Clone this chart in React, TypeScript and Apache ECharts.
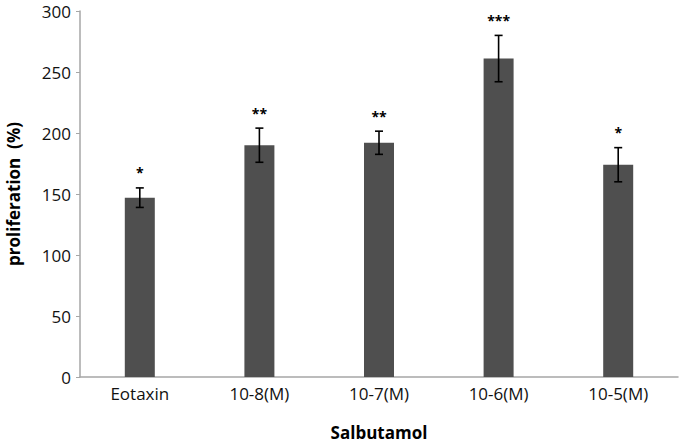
import React, { useEffect, useRef } from "react";
import * as echarts from "echarts";

const categories = ["Eotaxin", "10-8(M)", "10-7(M)", "10-6(M)", "10-5(M)"];
const means = [147, 190, 192, 261, 174];
const errors = [8, 14, 9.5, 19, 14];
const significance = ["*", "**", "**", "***", "*"];
const yTicks = { min: 0, max: 300, interval: 50 };

const FONT = "'Open Sans', 'Liberation Sans', sans-serif";

export default function App() {
  const ref = useRef<HTMLDivElement>(null);
  useEffect(() => {
    if (!ref.current) return;
    const chart = echarts.init(ref.current, undefined, { renderer: "svg" });
    const errData = means.map((m, i) => [i, m - errors[i], m + errors[i], significance[i]]);
    chart.setOption({
      animation: false,
      backgroundColor: "#ffffff",
      grid: { left: 80, right: 2, top: 11, bottom: 66, outerBoundsMode: "none", containLabel: false },
      xAxis: {
        type: "category",
        data: categories,
        name: "Salbutamol",
        nameLocation: "middle",
        nameGap: 45,
        nameTextStyle: { fontFamily: FONT, fontSize: 17, fontWeight: "bold", color: "#000", lineHeight: 20 },
        axisLine: { lineStyle: { color: "#a6a6a6", width: 1.5 } },
        axisTick: { show: false },
        axisLabel: { fontFamily: FONT, fontSize: 17, color: "#111", margin: 8 },
      },
      yAxis: {
        type: "value",
        min: yTicks.min,
        max: yTicks.max,
        interval: yTicks.interval,
        name: "proliferation  (%)",
        nameLocation: "middle",
        nameGap: 58,
        nameTextStyle: { fontFamily: FONT, fontSize: 17, fontWeight: "bold", color: "#000" },
        axisLine: { show: true, lineStyle: { color: "#a6a6a6", width: 1.5 } },
        axisTick: { show: true, length: 4, lineStyle: { color: "#a6a6a6" } },
        splitLine: { show: false },
        axisLabel: { fontFamily: FONT, fontSize: 17, color: "#111", margin: 9, lineHeight: 15 },
      },
      series: [
        {
          type: "bar",
          data: means,
          barWidth: 30,
          itemStyle: { color: "#4f4f4f" },
        },
        {
          type: "custom",
          data: errData,
          z: 10,
          renderItem: (params: any, api: any) => {
            const idx = api.value(0);
            const lo = api.coord([idx, api.value(1)]);
            const hi = api.coord([idx, api.value(2)]);
            const x = hi[0];
            const cap = 4;
            const st = { stroke: "#000", lineWidth: 1.6 };
            return {
              type: "group",
              children: [
                { type: "line", shape: { x1: x, y1: lo[1], x2: x, y2: hi[1] }, style: st },
                { type: "line", shape: { x1: x - cap, y1: lo[1], x2: x + cap, y2: lo[1] }, style: st },
                { type: "line", shape: { x1: x - cap, y1: hi[1], x2: x + cap, y2: hi[1] }, style: st },
                {
                  type: "text",
                  x: x,
                  y: hi[1] - 8,
                  style: {
                    text: significance[params.dataIndex],
                    fontFamily: FONT,
                    fontSize: 14,
                    fontWeight: "bold",
                    fill: "#000",
                    align: "center",
                    verticalAlign: "bottom",
                  },
                },
              ],
            };
          },
        },
      ],
    });
    return () => chart.dispose();
  }, []);
  return (
    <div
      ref={ref}
      style={{ position: "fixed", left: 0, top: 0, width: 680, height: 443 }}
    />
  );
}
